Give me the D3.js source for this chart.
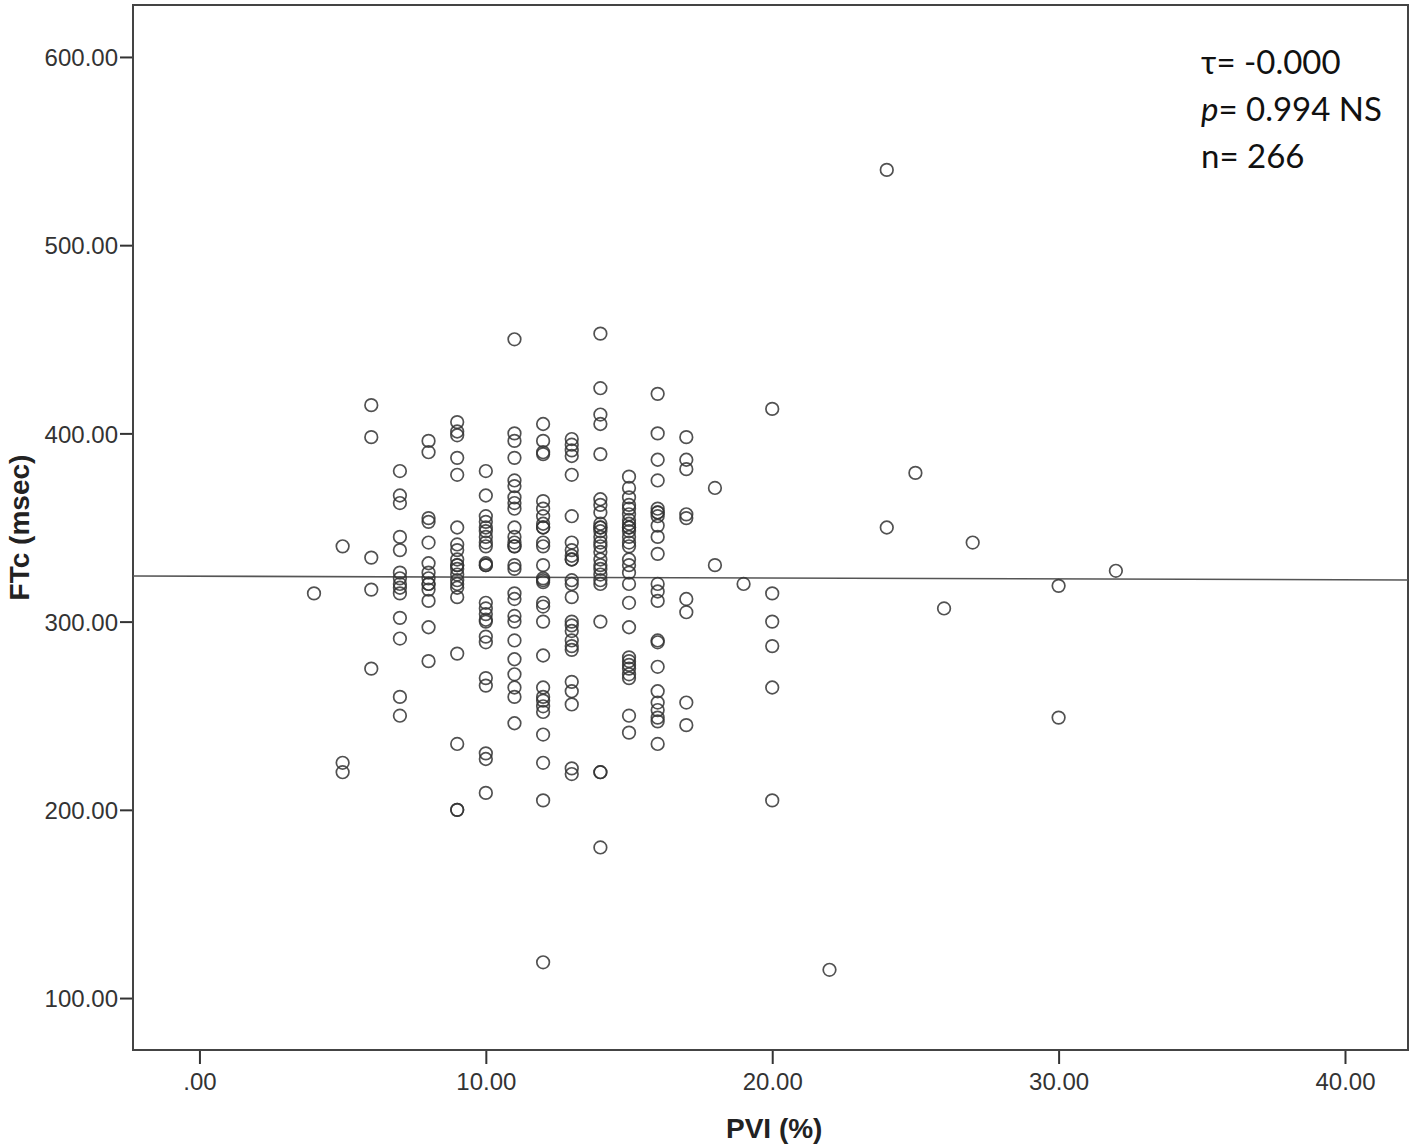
<!DOCTYPE html>
<html>
<head>
<meta charset="utf-8">
<script src="https://cdn.jsdelivr.net/npm/d3@7"></script>
<style>
  html, body { margin: 0; padding: 0; background: #fff; }
  svg { display: block; }
</style>
</head>
<body>
<div id="chart"></div>
<script>
const pviLevels = [4, 5, 6, 7, 8, 9, 10, 11, 12, 13, 14, 15, 16, 17, 18, 19, 20, 22, 24, 25, 26, 27, 30, 32];
const ftcByPvi = [
  [315],
  [340, 225, 220],
  [415, 398, 334, 317, 275],
  [380, 367, 363, 345, 338, 326, 323, 320, 318, 315, 302, 291, 260, 250],
  [396, 390, 355, 353, 342, 331, 326, 323, 320, 320, 317, 311, 297, 279],
  [406, 401, 399, 387, 378, 350, 341, 338, 333, 330, 330, 328, 325, 322, 320, 318, 313, 283, 235, 200, 200],
  [380, 367, 356, 353, 350, 348, 345, 342, 340, 331, 330, 330, 310, 307, 304, 301, 300, 292, 289, 270, 266, 230, 227, 209],
  [450, 400, 396, 387, 375, 372, 366, 363, 360, 350, 345, 342, 340, 340, 330, 328, 315, 312, 303, 300, 290, 280, 272, 265, 260, 246],
  [405, 396, 390, 389, 364, 360, 356, 352, 350, 350, 342, 340, 330, 323, 322, 321, 310, 308, 300, 282, 265, 260, 258, 255, 252, 240, 225, 205, 119],
  [397, 394, 391, 388, 378, 356, 342, 338, 335, 333, 333, 322, 320, 313, 300, 298, 295, 290, 287, 285, 268, 263, 256, 222, 219],
  [453, 424, 410, 405, 389, 365, 362, 358, 352, 350, 350, 348, 345, 342, 340, 337, 333, 330, 328, 325, 322, 320, 300, 220, 220, 180],
  [377, 371, 366, 362, 360, 357, 354, 352, 350, 350, 348, 345, 342, 340, 333, 330, 326, 320, 310, 297, 281, 279, 277, 275, 272, 270, 250, 241],
  [421, 400, 386, 375, 360, 358, 358, 356, 351, 345, 336, 320, 316, 311, 290, 289, 276, 263, 257, 253, 249, 247, 235],
  [398, 386, 381, 357, 355, 312, 305, 257, 245],
  [371, 330],
  [320],
  [413, 315, 300, 287, 265, 205],
  [115],
  [540, 350],
  [379],
  [307],
  [342],
  [319, 249],
  [327]
];

// fit line shown on the chart
const fitIntercept = 324.1;
const fitSlope = -0.047;

const xTicks = [0, 10, 20, 30, 40];
const xTickLabels = [".00", "10.00", "20.00", "30.00", "40.00"];
const yTicks = [100, 200, 300, 400, 500, 600];
const yTickLabels = ["100.00", "200.00", "300.00", "400.00", "500.00", "600.00"];

const statLines = ["τ= -0.000", "p= 0.994 NS", "n= 266"];

const W = 1416, H = 1146;
const margin = {top: 5, right: 8, bottom: 96, left: 133};

const points = [];
pviLevels.forEach((p, i) => ftcByPvi[i].forEach(v => points.push({pvi: p, ftc: v})));

const x = d3.scaleLinear().domain([-2.32, 42.2]).range([margin.left, W - margin.right]);
const y = d3.scaleLinear().domain([72.4, 627.6]).range([H - margin.bottom, margin.top]);

const svg = d3.select("#chart").append("svg")
  .attr("width", W)
  .attr("height", H)
  .style("font-family", "'Liberation Sans', Arial, sans-serif");

// axes
const xAxis = svg.append("g")
  .attr("transform", "translate(0," + (H - margin.bottom) + ")")
  .call(d3.axisBottom(x).tickValues(xTicks).tickSize(14).tickPadding(9)
    .tickFormat((d, i) => xTickLabels[i]));

const yAxis = svg.append("g")
  .attr("transform", "translate(" + margin.left + ",0)")
  .call(d3.axisLeft(y).tickValues(yTicks).tickSize(13).tickPadding(2)
    .tickFormat((d, i) => yTickLabels[i]));

[xAxis, yAxis].forEach(g => {
  g.select(".domain").remove();
  g.selectAll(".tick line").attr("stroke", "#333").attr("stroke-width", 2);
  g.selectAll(".tick text")
    .attr("fill", "#333")
    .style("font-size", "24px")
    .style("font-family", "'Liberation Sans', Arial, sans-serif");
});
yAxis.selectAll(".tick text").attr("dy", "0.36em");

// frame
svg.append("rect")
  .attr("x", margin.left)
  .attr("y", margin.top)
  .attr("width", W - margin.left - margin.right)
  .attr("height", H - margin.top - margin.bottom)
  .attr("fill", "none")
  .attr("stroke", "#444")
  .attr("stroke-width", 2);

// fit line
const xd = x.domain();
svg.append("line")
  .attr("x1", x(xd[0])).attr("y1", y(fitIntercept + fitSlope * xd[0]))
  .attr("x2", x(xd[1])).attr("y2", y(fitIntercept + fitSlope * xd[1]))
  .attr("stroke", "#555")
  .attr("stroke-width", 1.6);

// points
svg.append("g")
  .selectAll("circle")
  .data(points)
  .enter()
  .append("circle")
  .attr("cx", d => x(d.pvi))
  .attr("cy", d => y(d.ftc))
  .attr("r", 6.3)
  .attr("fill", "none")
  .attr("stroke", "#333")
  .attr("stroke-width", 1.7)
  .attr("stroke-opacity", 0.85);

// axis titles
svg.append("text")
  .attr("x", (x(0) + x(40)) / 2 + 2)
  .attr("y", 1138)
  .attr("text-anchor", "middle")
  .attr("font-weight", "bold")
  .style("font-size", "28px")
  .attr("fill", "#222")
  .text("PVI (%)");

svg.append("text")
  .attr("transform", "translate(29," + y(350) + ") rotate(-90)")
  .attr("text-anchor", "middle")
  .attr("font-weight", "bold")
  .style("font-size", "28px")
  .attr("fill", "#222")
  .text("FTc (msec)");

// stats box text
const stats = svg.append("g")
  .style("font-family", "Lato, 'Open Sans', sans-serif")
  .style("font-size", "33px")
  .attr("fill", "#111");

statLines.forEach((s, i) => {
  const t = stats.append("text")
    .attr("x", 1201)
    .attr("y", 74 + i * 47);
  if (s.startsWith("p=")) {
    t.append("tspan").attr("font-style", "italic").text("p");
    t.append("tspan").text(s.slice(1));
  } else {
    t.text(s);
  }
});
</script>
</body>
</html>
